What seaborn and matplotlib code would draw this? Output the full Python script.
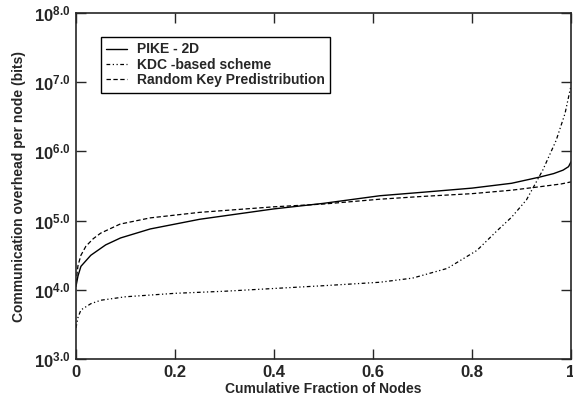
import numpy as np
import pandas as pd
import matplotlib
matplotlib.use("Agg")
import matplotlib.pyplot as plt
import seaborn as sns
from matplotlib.ticker import FixedLocator, FuncFormatter
from matplotlib.font_manager import FontProperties

# data (log10 of bits)
pike_x = [0.0, 0.004, 0.01, 0.03, 0.06, 0.09, 0.15, 0.25, 0.4, 0.5, 0.614, 0.7, 0.8, 0.88, 0.937, 0.965, 0.984, 0.995, 1.0]
pike_y = [4.05, 4.2, 4.34, 4.5, 4.65, 4.75, 4.88, 5.02, 5.17, 5.25, 5.36, 5.41, 5.47, 5.54, 5.63, 5.68, 5.73, 5.78, 5.85]

rkp_x = [0.0, 0.004, 0.01, 0.02, 0.035, 0.05, 0.089, 0.15, 0.25, 0.4, 0.5, 0.614, 0.7, 0.8, 0.88, 0.937, 0.98, 1.0]
rkp_y = [4.1, 4.35, 4.5, 4.63, 4.74, 4.82, 4.95, 5.04, 5.12, 5.2, 5.24, 5.31, 5.35, 5.39, 5.44, 5.49, 5.53, 5.56]

kdc_x = [0.0, 0.004, 0.01, 0.03, 0.05, 0.1, 0.2, 0.3, 0.4, 0.5, 0.614, 0.68, 0.75, 0.81, 0.85, 0.88, 0.91, 0.943, 0.97, 0.988, 1.0]
kdc_y = [3.45, 3.6, 3.71, 3.8, 3.85, 3.9, 3.95, 3.98, 4.02, 4.06, 4.11, 4.17, 4.31, 4.57, 4.85, 5.05, 5.3, 5.73, 6.16, 6.55, 6.95]

series_names = ["PIKE - 2D", "KDC -based scheme", "Random Key Predistribution"]
y_ticks = [3.0, 4.0, 5.0, 6.0, 7.0, 8.0]
x_ticks = [0, 0.2, 0.4, 0.6, 0.8, 1.0]
x_tick_labels = ["0", "0.2", "0.4", "0.6", "0.8", "1"]

sns.set_style("ticks")
plt.rcParams['font.family'] = ['Liberation Sans', 'DejaVu Sans']
plt.rcParams['mathtext.fontset'] = 'custom'
plt.rcParams['mathtext.rm'] = 'Liberation Sans:bold'
plt.rcParams['mathtext.bf'] = 'Liberation Sans:bold'

fig = plt.figure(figsize=(5.73, 4.03), dpi=100)
ax = fig.add_axes([0.1326, 0.109, 0.8639, 0.8587])

df_p = pd.DataFrame({"x": pike_x, "y": np.power(10.0, pike_y)})
df_k = pd.DataFrame({"x": kdc_x, "y": np.power(10.0, kdc_y)})
df_r = pd.DataFrame({"x": rkp_x, "y": np.power(10.0, rkp_y)})

sns.lineplot(data=df_p, x="x", y="y", ax=ax, color="black", lw=1.0, label=series_names[0], sort=False)
sns.lineplot(data=df_k, x="x", y="y", ax=ax, color="black", lw=0.9, label=series_names[1], sort=False,
             linestyle=(0, (3, 2, 1, 2, 1, 2)))
sns.lineplot(data=df_r, x="x", y="y", ax=ax, color="black", lw=0.9, label=series_names[2], sort=False,
             linestyle=(0, (3.5, 2)))

ax.set_yscale("log")
ax.set_ylim(10**3, 10**8)
ax.set_xlim(0, 1)
ax.yaxis.set_major_locator(FixedLocator([10**v for v in y_ticks]))
ax.yaxis.set_minor_locator(FixedLocator([]))
ax.yaxis.set_major_formatter(FuncFormatter(lambda v, p: r"$\mathbf{10^{%.1f}}$" % np.log10(v)))
ax.set_xticks(x_ticks)
ax.set_xticklabels(x_tick_labels)

ax.tick_params(axis="both", which="major", direction="in", length=7, width=1,
               top=True, right=True, labelsize=12, pad=4)
for lab in ax.get_xticklabels():
    lab.set_fontweight("bold")
for s in ax.spines.values():
    s.set_linewidth(1.2)

ax.set_xlabel("Cumulative Fraction of Nodes", fontsize=10, fontweight="bold", labelpad=2)
ax.set_ylabel("Communication overhead per node (bits)", fontsize=10, fontweight="bold", labelpad=6)

fp = FontProperties(family="Liberation Sans", weight="bold", size=10)
leg = ax.legend(loc="upper left", bbox_to_anchor=(0.05, 0.931), frameon=True, fancybox=False,
                edgecolor="black", framealpha=1, prop=fp, borderaxespad=0,
                handlelength=1.5, handletextpad=0.7, labelspacing=0.1, borderpad=0.4)
leg.get_frame().set_linewidth(1.0)
for t in leg.get_texts():
    t.set_fontweight("bold")

fig.savefig("out.png", dpi=100)
